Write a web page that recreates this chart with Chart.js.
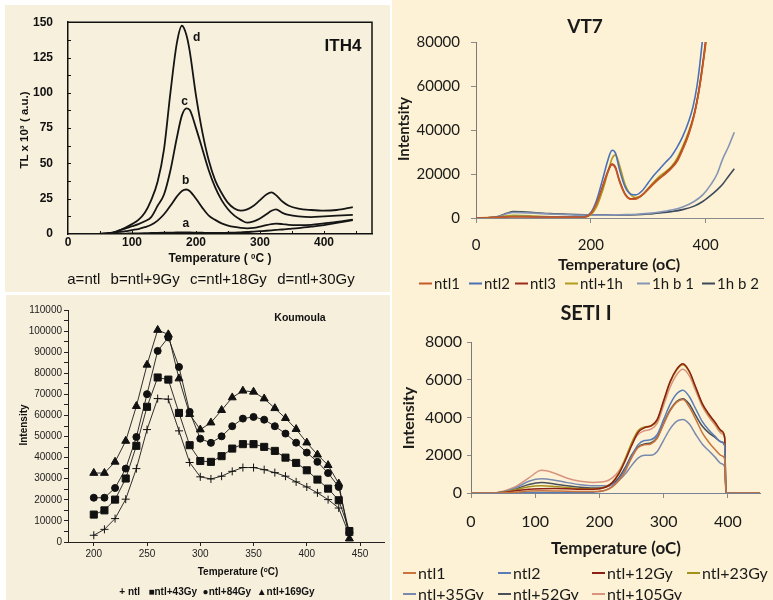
<!DOCTYPE html>
<html>
<head>
<meta charset="utf-8">
<script src="https://cdn.jsdelivr.net/npm/chart.js@4.4.1/dist/chart.umd.min.js"></script>
<style>
body { margin: 0; background: #fff; }
#page { position: relative; width: 773px; height: 600px; overflow: hidden; background: #fff; }
.bg { position: absolute; }
canvas { position: absolute; }
.t { position: absolute; white-space: pre; transform: translate(-50%, -50%); line-height: 1; color: #111; }
.t.rot { transform: translate(-50%, -50%) rotate(-90deg); }
.arial { font-family: 'Liberation Sans', Arial, sans-serif; }
.lato { font-family: Lato, 'Open Sans', sans-serif; color: #1a1a1a; }
.leg { position: absolute; display: flex; align-items: center; transform: translateY(-50%); white-space: pre; font-family: Lato, 'Open Sans', sans-serif; color: #1a1a1a; line-height: 1; }
.leg .ln { display: inline-block; width: 13px; height: 2px; margin-right: 2px; }
sup { font-size: 65%; vertical-align: 0.45em; line-height: 0; }
</style>
</head>
<body>
<div id="page">
  <div class="bg" style="left:5px;top:5px;width:385px;height:287px;background:#F7F0DC;"></div>
  <div class="bg" style="left:6px;top:295px;width:384px;height:305px;background:#F6EFDC;"></div>
  <div class="bg" style="left:392px;top:0;width:381px;height:600px;background:#FDF2D5;"></div>

  <canvas id="ith" width="390" height="290" style="left:0;top:0;"></canvas>
  <canvas id="kou" width="390" height="310" style="left:0;top:290px;"></canvas>
  <canvas id="vt" width="383" height="290" style="left:390px;top:0;"></canvas>
  <canvas id="seti" width="383" height="310" style="left:390px;top:290px;"></canvas>

  <!-- ITH4 texts -->
  <div class="t arial" style="left:343px;top:45px;font-weight:bold;font-size:17px;">ITH4</div>
  <div class="t arial rot" style="left:25px;top:130px;font-weight:bold;font-size:11.5px;">TL x 10³ ( a.u.)</div>
  <div class="t arial" style="left:220px;top:258px;font-weight:bold;font-size:12px;">Temperature ( <sup>0</sup>C )</div>
  <div class="t arial" style="left:211px;top:278px;font-size:15px;word-spacing:1px;">a=ntl  b=ntl+9Gy  c=ntl+18Gy  d=ntl+30Gy</div>

  <!-- Koumoula texts -->
  <div class="t arial" style="left:300px;top:317px;font-weight:bold;font-size:10.5px;">Koumoula</div>
  <div class="t arial rot" style="left:24px;top:425px;font-weight:bold;font-size:10px;">Intensity</div>
  <div class="t arial" style="left:238px;top:572px;font-weight:bold;font-size:10px;">Temperature (<sup>o</sup>C)</div>
  <div class="t arial" style="left:217px;top:592px;font-weight:bold;font-size:10px;">+ ntl   ■ntl+43Gy  ●ntl+84Gy  ▲ntl+169Gy</div>

  <!-- VT7 texts -->
  <div class="t lato" style="left:585px;top:25px;font-weight:bold;font-size:19px;">VT7</div>
  <div class="t lato rot" style="left:403px;top:129px;font-weight:bold;font-size:15px;">Intentsity</div>
  <div class="t lato" style="left:619px;top:264px;font-weight:bold;font-size:16px;">Temperature (oC)</div>

  <!-- SETI texts -->
  <div class="t lato" style="left:586px;top:312px;font-weight:bold;font-size:20px;">SETI I</div>
  <div class="t lato rot" style="left:408px;top:418px;font-weight:bold;font-size:16px;">Intensity</div>
  <div class="t lato" style="left:616px;top:547px;font-weight:bold;font-size:17px;">Temperature (oC)</div>
</div>

<script>
// ---- ITH4 (top left) ----
var ithTemp = [20, 40, 60, 70, 80, 90, 100, 110, 120, 130, 140, 150, 160, 170, 178, 185, 190, 200, 210, 220, 230, 240, 250, 260, 270, 280, 290, 300, 310, 318, 325, 335, 345, 360, 380, 400, 420, 445];
var ithA = [0, 0, 0, 0.1, 0.2, 0.3, 0.4, 0.5, 0.6, 0.7, 0.8, 0.9, 1, 1.1, 1.2, 1.2, 1.1, 1, 0.9, 0.8, 0.8, 0.8, 0.9, 1, 1.2, 1.4, 1.7, 2, 2.3, 2.6, 2.9, 3.2, 3.6, 4.2, 5.2, 6.3, 7.8, 9.8];
var ithB = [0, 0, 0.3, 0.8, 1.5, 2, 2.8, 3.5, 4.8, 6.5, 9.5, 14, 20, 26.5, 30.5, 31.5, 30.5, 25, 18.5, 13, 10, 7.5, 6, 5, 4.3, 4, 4.3, 5.2, 6.3, 7, 7.3, 7, 6.5, 6.3, 6.5, 7.5, 8.5, 10.2];
var ithC = [0, 0, 0.5, 1, 2.5, 4, 5.5, 7, 9, 12, 20, 28, 45, 68, 84, 89, 88, 75, 60, 45, 33, 24, 17.5, 13, 10, 8, 9, 11, 14, 16.5, 17.5, 15, 13.5, 12.5, 12, 12.5, 13, 13.5];
var ithD = [0, 0, 0.5, 1, 2.5, 4.5, 7, 10, 15, 24, 37, 60, 100, 135, 147.5, 141, 130, 98, 72, 52, 38, 29, 22, 18, 16.5, 17.5, 20, 24, 28, 29.5, 27.5, 23, 20, 18, 17, 16.5, 17, 19];
var ithCurveNames = ['a', 'b', 'c', 'd'];
var ithNameT = [184, 184, 182, 201];
var ithNameV = [7.6, 38, 93.5, 139];

// ---- Koumoula (bottom left) ----
var kouTemp = [200, 210, 220, 230, 240, 250, 260, 270, 280, 290, 300, 310, 320, 330, 340, 350, 360, 370, 380, 390, 400, 410, 420, 430, 440];
var kouNtl = [3200, 6000, 11100, 20300, 34800, 53300, 68000, 67700, 52700, 37700, 30900, 29900, 31200, 33500, 35300, 35300, 34300, 32900, 31200, 28500, 26100, 23300, 20100, 16100, 3200];
var kou43 = [13000, 15000, 20100, 30100, 45600, 64100, 78000, 77000, 61200, 45900, 38400, 38000, 40700, 44300, 46400, 46400, 45100, 43200, 40000, 37500, 34000, 29600, 25300, 19800, 5200];
var kou84 = [21000, 21000, 25600, 34800, 49800, 70100, 90600, 97000, 83000, 61700, 49000, 47000, 50100, 54900, 58500, 59300, 58000, 54900, 51400, 47100, 42400, 38000, 32700, 26100, 4400];
var kou169 = [32700, 32700, 38000, 47900, 64400, 84000, 100500, 98400, 77500, 60600, 53300, 56600, 62500, 68500, 71700, 71200, 68000, 63400, 58700, 53500, 47100, 41400, 36400, 27700, 1600];

// ---- VT7 (top right) ----
var vtLabels = ['ntl1', 'ntl2', 'ntl3', 'ntl+1h', '1h b 1', '1h b 2'];
var vtColors = ['#C65A27', '#4A70B6', '#9C2B1E', '#B39B1C', '#8595B5', '#3E4A5C'];
var vtTempA = [0, 20, 40, 55, 65, 80, 100, 130, 160, 190, 200, 210, 220, 230, 237, 243, 250, 260, 270, 278, 290, 300, 310, 320, 330, 340, 350, 360, 370, 380, 388, 394, 400, 405];
var vtTempB = [0, 20, 40, 55, 65, 80, 100, 130, 160, 190, 200, 210, 220, 230, 237, 243, 250, 260, 270, 278, 290, 300, 310, 320, 330, 340, 350, 360, 370, 378, 385, 390, 395, 400];
var vtTempC = [0, 20, 40, 55, 65, 80, 100, 130, 160, 190, 220, 250, 280, 300, 320, 340, 360, 380, 395, 410, 420, 430, 440, 450];
var vtNtl1 = [0, 100, 300, 500, 600, 600, 500, 400, 400, 600, 2000, 6500, 13500, 21000, 24200, 22500, 16500, 10500, 8500, 8600, 10500, 13000, 15600, 18000, 20000, 22400, 25500, 31000, 37500, 46500, 57000, 67000, 79600, 92000];
var vtNtl2 = [0, 100, 300, 600, 700, 700, 600, 500, 500, 700, 2500, 8000, 17000, 26500, 30800, 29500, 22000, 14000, 10800, 10500, 12500, 16000, 19400, 22300, 25200, 28000, 32000, 37000, 43500, 50500, 60000, 70000, 82000, 96000];
var vtNtl3 = [0, 100, 300, 500, 600, 600, 500, 400, 400, 600, 2100, 6800, 14000, 21500, 24500, 23000, 17000, 10800, 8700, 8800, 10600, 13200, 15800, 18200, 20300, 22800, 26000, 31500, 38000, 47000, 57500, 68000, 80500, 93000];
var vtNtl1h = [0, 150, 500, 1000, 1200, 1100, 900, 600, 400, 500, 1500, 5000, 12000, 21000, 27000, 28700, 24000, 15000, 10500, 9300, 10500, 13500, 16400, 19000, 21000, 23300, 27000, 32500, 39000, 47200, 57500, 68000, 78500, 90000];
var vt1hb1 = [0, 100, 700, 2000, 2500, 2400, 2200, 1800, 1500, 1300, 1300, 1500, 1700, 2100, 2700, 3600, 5000, 7500, 10500, 15500, 20000, 27000, 32500, 39000];
var vt1hb2 = [0, 100, 800, 2300, 2900, 2800, 2500, 2000, 1700, 1500, 1400, 1400, 1500, 1800, 2300, 2900, 3800, 5400, 7500, 10500, 12800, 15500, 19000, 22400];

// ---- SETI I (bottom right) ----
var setiLabels = ['ntl1', 'ntl2', 'ntl+12Gy', 'ntl+23Gy', 'ntl+35Gy', 'ntl+52Gy', 'ntl+105Gy'];
var setiColors = ['#C8743C', '#5A7DB5', '#8E1F14', '#A4901A', '#7A8AAE', '#474F5A', '#D9937F'];
var setiTemp = [0, 30, 50, 70, 90, 110, 130, 150, 170, 190, 210, 220, 230, 240, 250, 260, 270, 280, 290, 300, 310, 320, 330, 340, 350, 360, 370, 380, 390, 395, 397, 450];
var setiNtl1 = [0, 0, 10, 50, 100, 120, 110, 90, 80, 80, 160, 330, 650, 1150, 1850, 2400, 2550, 2600, 2900, 3650, 4350, 4800, 4950, 4550, 3900, 3200, 2700, 2300, 1980, 1820, 0, 0];
var setiNtl2 = [0, 0, 0, 10, 20, 30, 30, 30, 30, 40, 150, 350, 700, 1250, 1950, 2550, 2780, 2820, 3100, 3900, 4700, 5250, 5450, 5100, 4450, 3800, 3350, 3000, 2700, 2500, 0, 0];
var seti12 = [0, 0, 30, 120, 200, 230, 240, 230, 200, 200, 320, 550, 1000, 1700, 2500, 3200, 3450, 3550, 3900, 4900, 5900, 6550, 6850, 6450, 5600, 4750, 4200, 3750, 3300, 2950, 0, 0];
var seti23 = [0, 0, 40, 180, 330, 380, 350, 290, 230, 220, 330, 560, 1050, 1800, 2650, 3300, 3500, 3550, 3850, 4850, 5850, 6500, 6800, 6400, 5550, 4700, 4150, 3700, 3250, 2950, 0, 0];
var seti35 = [0, 0, 60, 280, 620, 750, 680, 550, 440, 380, 380, 450, 650, 1000, 1450, 1850, 2000, 2000, 2200, 2800, 3400, 3800, 3900, 3650, 3100, 2600, 2250, 1900, 1550, 1380, 0, 0];
var seti52 = [0, 0, 50, 220, 450, 550, 480, 380, 300, 260, 320, 480, 800, 1350, 2000, 2450, 2600, 2650, 2950, 3700, 4400, 4850, 5000, 4700, 4100, 3550, 3200, 2950, 2700, 2530, 0, 0];
var seti105 = [0, 0, 100, 350, 800, 1200, 1050, 780, 620, 560, 620, 800, 1150, 1800, 2550, 3100, 3300, 3380, 3700, 4650, 5600, 6250, 6550, 6200, 5400, 4600, 4050, 3600, 3150, 2880, 0, 0];

// legend placement (layout, not data)
var vtLegendLeft = [419, 469, 515, 565, 637, 702];
var vtLegendTop = 283;
var setiLegendLeft = [403, 498, 592, 687, 403, 498, 592];
var setiLegendTop = [573, 573, 573, 573, 594, 594, 594];

function pts(xs, ys) {
    return xs.map(function (x, i) { return { x: x, y: ys[i] }; });
}

function base(padTop, padRight) {
    return {
        responsive: false,
        animation: false,
        devicePixelRatio: 1,
        events: [],
        layout: { padding: { top: padTop, right: padRight, left: 0, bottom: 0 } },
        plugins: { legend: { display: false }, tooltip: { enabled: false } },
        elements: { point: { radius: 0 }, line: { cubicInterpolationMode: 'monotone' } }
    };
}

var arialBold12 = { family: "'Liberation Sans', Arial, sans-serif", weight: 'bold', size: 12 };
var narrow10 = { family: "'Liberation Sans Narrow', 'Liberation Sans', Arial, sans-serif", size: 10 };

// ITH4: box frame, inward ticks and a/b/c/d letters
var ithExtras = {
    id: 'ithExtras',
    afterDatasetsDraw: function (chart) {
        var c = chart.ctx, a = chart.chartArea, xs = chart.scales.x, ys = chart.scales.y;
        c.save();
        c.strokeStyle = '#111';
        c.lineWidth = 1.5;
        c.beginPath();
        c.moveTo(a.left, a.top); c.lineTo(a.right, a.top); c.lineTo(a.right, a.bottom);
        c.stroke();
        c.lineWidth = 1;
        c.beginPath();
        for (var v = 12.5; v < 150; v += 12.5) {
            var py = Math.round(ys.getPixelForValue(v)) + 0.5;
            c.moveTo(a.left, py); c.lineTo(a.left + 3, py);
        }
        for (var t = 50; t < 475; t += 50) {
            var px = Math.round(xs.getPixelForValue(t)) + 0.5;
            c.moveTo(px, a.bottom); c.lineTo(px, a.bottom - 3);
        }
        c.stroke();
        c.font = "bold 12px 'Liberation Sans', Arial, sans-serif";
        c.fillStyle = '#111';
        c.textAlign = 'center';
        c.textBaseline = 'middle';
        ithCurveNames.forEach(function (n, i) {
            c.fillText(n, xs.getPixelForValue(ithNameT[i]), ys.getPixelForValue(ithNameV[i]));
        });
        c.restore();
    }
};

var ithOpts = base(17, 18);
ithOpts.scales = {
    x: {
        type: 'linear', min: 0, max: 475,
        grid: { display: false, drawTicks: false },
        border: { color: '#111', width: 1.5 },
        ticks: { stepSize: 100, includeBounds: false, padding: 1, color: '#111', font: arialBold12, maxRotation: 0 },
        afterFit: function (s) { s.height = 56; }
    },
    y: {
        min: 0, max: 150,
        grid: { display: false, drawTicks: false },
        border: { color: '#111', width: 1.5 },
        ticks: { stepSize: 25, padding: 15, color: '#111', font: arialBold12 },
        afterFit: function (s) { s.width = 68; }
    }
};
new Chart(document.getElementById('ith'), {
    type: 'line',
    data: {
        datasets: [ithA, ithB, ithC, ithD].map(function (ys) {
            return { data: pts(ithTemp, ys), borderColor: '#151515', borderWidth: 1.8, fill: false };
        })
    },
    options: ithOpts,
    plugins: [ithExtras]
});

// Koumoula
var kouOpts = base(20, 0);
kouOpts.elements.line.cubicInterpolationMode = 'default';
kouOpts.elements.line.tension = 0;
kouOpts.scales = {
    x: {
        type: 'linear', min: 175.8, max: 472.5,
        grid: { drawOnChartArea: false, drawTicks: true, tickLength: 4, color: '#222' },
        border: { color: '#222', width: 1 },
        ticks: { stepSize: 50, includeBounds: false, padding: 2, color: '#222', font: narrow10, autoSkip: false, maxRotation: 0 },
        afterFit: function (s) { s.height = 58; }
    },
    y: {
        min: 0, max: 110000,
        grid: { drawOnChartArea: false, drawTicks: true, tickLength: 4, color: '#222' },
        border: { color: '#222', width: 1 },
        ticks: {
            stepSize: 5000, padding: 2, color: '#222', font: narrow10, autoSkip: false,
            callback: function (v) { return v % 10000 === 0 ? String(v) : ''; }
        },
        afterFit: function (s) { s.width = 68; }
    }
};
var kouStyles = ['cross', 'rect', 'circle', 'triangle'];
var kouRadius = [4, 5, 3.5, 4.6];
new Chart(document.getElementById('kou'), {
    type: 'line',
    data: {
        datasets: [kouNtl, kou43, kou84, kou169].map(function (ys, i) {
            return {
                data: pts(kouTemp, ys), borderColor: '#1a1a1a', borderWidth: 0.9, fill: false,
                pointStyle: kouStyles[i], pointRadius: kouRadius[i], pointBackgroundColor: '#111',
                pointBorderColor: '#111', pointBorderWidth: 1
            };
        })
    },
    options: kouOpts
});

// VT7
var lato15 = { family: "Lato, 'Open Sans', sans-serif", size: 15 };
var vtOpts = base(42, 10);
vtOpts.scales = {
    x: {
        type: 'linear', min: 0, max: 500,
        grid: { drawOnChartArea: false, drawTicks: true, tickLength: 5, color: '#8a8a8a' },
        border: { color: '#8a8a8a', width: 1 },
        ticks: { stepSize: 200, includeBounds: false, padding: 13, color: '#1a1a1a', font: lato15, maxRotation: 0 },
        afterFit: function (s) { s.height = 72; }
    },
    y: {
        min: 0, max: 80000,
        grid: { drawOnChartArea: false, drawTicks: true, tickLength: 5, color: '#8a8a8a' },
        border: { color: '#7a7a7a', width: 1 },
        ticks: { stepSize: 20000, padding: 11, color: '#1a1a1a', font: lato15, callback: function (v) { return String(v); } },
        afterFit: function (s) { s.width = 86; }
    }
};
var vtSeries = [
    [vtTempA, vtNtl1], [vtTempB, vtNtl2], [vtTempA, vtNtl3],
    [vtTempA, vtNtl1h], [vtTempC, vt1hb1], [vtTempC, vt1hb2]
];
new Chart(document.getElementById('vt'), {
    type: 'line',
    data: {
        datasets: vtSeries.map(function (s, i) {
            return { label: vtLabels[i], data: pts(s[0], s[1]), borderColor: vtColors[i], borderWidth: 1.6, fill: false };
        })
    },
    options: vtOpts
});

// SETI I
var lato16 = { family: "Lato, 'Open Sans', sans-serif", size: 16 };
var setiOpts = base(52, 13);
setiOpts.scales = {
    x: {
        type: 'linear', min: 0, max: 450,
        grid: { drawOnChartArea: false, drawTicks: true, tickLength: 5, color: '#8a8a8a' },
        border: { color: '#7a8296', width: 1 },
        ticks: { stepSize: 100, includeBounds: false, padding: 14, color: '#1a1a1a', font: lato16, maxRotation: 0 },
        afterFit: function (s) { s.height = 107; }
    },
    y: {
        min: 0, max: 8000,
        grid: { drawOnChartArea: false, drawTicks: true, tickLength: 4, color: '#8a8a8a' },
        border: { color: '#7a7a7a', width: 1 },
        ticks: { stepSize: 2000, padding: 5, color: '#1a1a1a', font: lato16, callback: function (v) { return String(v); } },
        afterFit: function (s) { s.width = 81; }
    }
};
var setiSeries = [setiNtl1, setiNtl2, seti12, seti23, seti35, seti52, seti105];
new Chart(document.getElementById('seti'), {
    type: 'line',
    data: {
        datasets: setiSeries.map(function (ys, i) {
            return { label: setiLabels[i], data: pts(setiTemp, ys), borderColor: setiColors[i], borderWidth: 1.5, fill: false };
        })
    },
    options: setiOpts
});

// HTML legends built from the label/colour arrays
function addLegend(labels, colors, lefts, tops, size) {
    var page = document.getElementById('page');
    labels.forEach(function (l, i) {
        var d = document.createElement('div');
        d.className = 'leg';
        d.style.left = lefts[i] + 'px';
        d.style.top = (Array.isArray(tops) ? tops[i] : tops) + 'px';
        d.style.fontSize = size + 'px';
        var ln = document.createElement('span');
        ln.className = 'ln';
        ln.style.background = colors[i];
        d.appendChild(ln);
        d.appendChild(document.createTextNode(l));
        page.appendChild(d);
    });
}
addLegend(vtLabels, vtColors, vtLegendLeft, vtLegendTop, 15);
addLegend(setiLabels, setiColors, setiLegendLeft, setiLegendTop, 16);
</script>
</body>
</html>
